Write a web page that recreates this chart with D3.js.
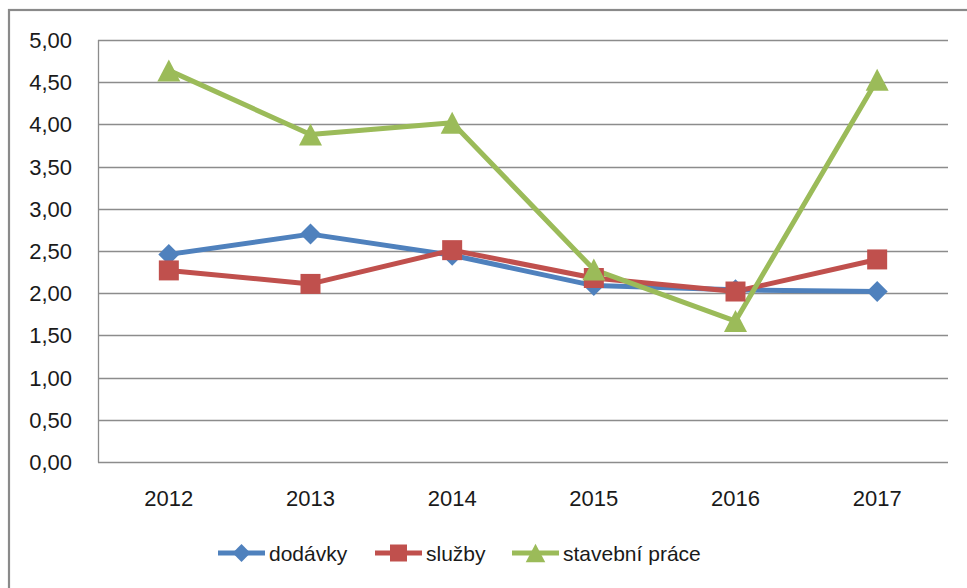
<!DOCTYPE html>
<html>
<head>
<meta charset="utf-8">
<script src="https://cdn.jsdelivr.net/npm/d3@7"></script>
<style>
  html, body { margin: 0; padding: 0; background: #fff; }
  svg { display: block; }
  text { font-family: "Liberation Sans", Arial, sans-serif; fill: #1a1a1a; }
</style>
</head>
<body>
<svg id="chart" width="967" height="588"></svg>
<script>
const years = ["2012", "2013", "2014", "2015", "2016", "2017"];
const dodavky = [2.46, 2.70, 2.45, 2.09, 2.04, 2.02];
const sluzby = [2.27, 2.11, 2.51, 2.18, 2.02, 2.40];
const stavebni = [4.64, 3.88, 4.02, 2.28, 1.67, 4.53];
const seriesNames = ["dodávky", "služby", "stavební práce"];
const yTicks = [0, 0.5, 1, 1.5, 2, 2.5, 3, 3.5, 4, 4.5, 5];

const seriesData = [dodavky, sluzby, stavebni];
const colors = ["#4F81BD", "#C0504D", "#9BBB59"];

const svg = d3.select("#chart");
const m = { left: 98, right: 948, top: 40, bottom: 462 };

// outer chart border
svg.append("rect")
  .attr("x", 9).attr("y", 10).attr("width", 980).attr("height", 600)
  .attr("fill", "none").attr("stroke", "#8a8a8a").attr("stroke-width", 2.2);

const x = d3.scalePoint().domain(years).range([m.left, m.right]).padding(0.5);
const y = d3.scaleLinear().domain([0, 5]).range([m.bottom, m.top]);

// gridlines
svg.append("g").selectAll("line").data(yTicks).join("line")
  .attr("x1", m.left).attr("x2", m.right)
  .attr("y1", d => Math.round(y(d)) + 0.5).attr("y2", d => Math.round(y(d)) + 0.5)
  .attr("stroke", "#8c8c8c").attr("stroke-width", 1.3);

// y axis line
svg.append("line")
  .attr("x1", m.left + 0.5).attr("x2", m.left + 0.5)
  .attr("y1", m.top).attr("y2", m.bottom + 0.5)
  .attr("stroke", "#8c8c8c").attr("stroke-width", 1.3);

// y labels
const fmt = d => d.toFixed(2).replace(".", ",");
svg.append("g").selectAll("text").data(yTicks).join("text")
  .attr("x", 72).attr("y", d => y(d))
  .attr("dy", "0.36em")
  .attr("text-anchor", "end")
  .attr("font-size", 22)
  .text(fmt);

// x labels
svg.append("g").selectAll("text").data(years).join("text")
  .attr("x", d => x(d)).attr("y", 506)
  .attr("text-anchor", "middle")
  .attr("font-size", 22)
  .text(d => d);

// marker path generators (centered at 0,0)
function marker(k, s) {
  s = s || 1;
  if (k === 0) { const r = 10.5 * s; return `M0,${-r}L${r},0L0,${r}L${-r},0Z`; }
  if (k === 1) { const h = 10 * s; return `M${-h},${-h}H${h}V${h}H${-h}Z`; }
  const w = 11.5 * s, t = 11 * s;
  return `M0,${-t}L${w},${t}L${-w},${t}Z`;
}

// lines
const line = d3.line().x((d, i) => x(years[i])).y(d => y(d));
seriesData.forEach((s, k) => {
  svg.append("path").datum(s)
    .attr("d", line)
    .attr("fill", "none")
    .attr("stroke", colors[k])
    .attr("stroke-width", 5)
    .attr("stroke-linejoin", "round")
    .attr("stroke-linecap", "round");
});

// markers
seriesData.forEach((s, k) => {
  svg.append("g").selectAll("path").data(s).join("path")
    .attr("transform", (d, i) => `translate(${x(years[i])},${y(d)})`)
    .attr("d", marker(k))
    .attr("fill", colors[k]);
});

// legend
const legendX = [218, 375, 512];
const lg = svg.append("g");
seriesNames.forEach((name, k) => {
  const g = lg.append("g").attr("transform", `translate(${legendX[k]},553)`);
  g.append("line").attr("x1", 0).attr("x2", 47).attr("y1", 0).attr("y2", 0)
    .attr("stroke", colors[k]).attr("stroke-width", 5);
  g.append("path").attr("transform", "translate(23.5,0)")
    .attr("d", marker(k, 0.85))
    .attr("fill", colors[k]);
  g.append("text").attr("x", 51).attr("y", 0).attr("dy", "0.36em")
    .attr("font-size", 21).text(name);
});
</script>
</body>
</html>
